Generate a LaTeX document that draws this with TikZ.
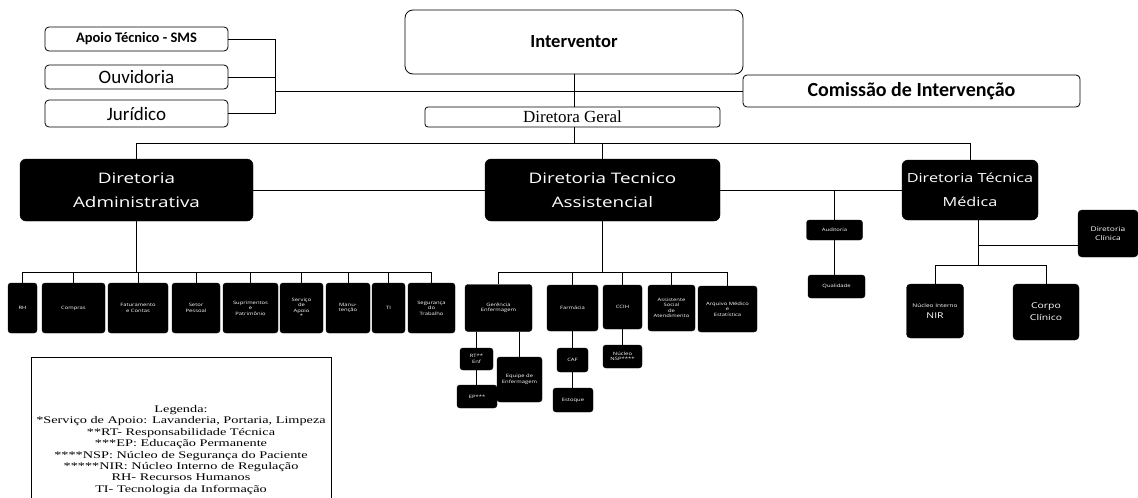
\documentclass[tikz,border=0pt]{standalone}
\usepackage{fontspec}
\setmainfont{Liberation Serif}
\newfontfamily\calf{Carlito}
\newfontfamily\osw{Open Sans}[FakeStretch=1.3]
\newfontfamily\legf{Liberation Serif}[FakeStretch=1.4]
\begin{document}
\begin{tikzpicture}[x=1pt,y=-1pt,
  conn/.style={draw=black, line width=0.8pt},
  wbox/.style={draw=black, fill=white, line width=0.8pt, rounded corners=4pt, inner sep=0pt, align=center},
  bbox/.style={draw=black, fill=black, text=white, rounded corners=6pt, inner sep=0pt, align=center},
  bigtxt/.style={font=\osw\fontsize{14.5}{24}\selectfont},
  sbox/.style={bbox, rounded corners=3pt, font=\osw\fontsize{4.5}{5.5}\selectfont},
  mbox/.style={bbox, rounded corners=4pt, font=\osw\fontsize{7}{9}\selectfont}]
\useasboundingbox (0,0) rectangle (1138,498);
\fill[white] (0,0) rectangle (1138,498);

% top left boxes
\node[wbox, minimum width=183pt, minimum height=24pt, font=\calf\bfseries\fontsize{14.5}{17}\selectfont] (apoio) at (136.5,39) {Apoio Técnico - SMS};
\node[wbox, minimum width=183pt, minimum height=24pt, font=\calf\fontsize{19}{22}\selectfont] (ouv) at (136.5,77) {Ouvidoria};
\node[wbox, minimum width=183pt, minimum height=27pt, font=\calf\fontsize{19}{22}\selectfont] (jur) at (136.5,113.5) {Jurídico};

% top center
\node[wbox, rounded corners=8pt, minimum width=338pt, minimum height=64pt, font=\calf\bfseries\fontsize{18.5}{22}\selectfont] (interv) at (574,42) {Interventor};
\node[wbox, minimum width=337pt, minimum height=32pt, font=\calf\bfseries\fontsize{20}{24}\selectfont] (comis) at (911.5,91) {Comissão de Intervenção};
\node[wbox, rounded corners=3pt, minimum width=295pt, minimum height=20pt, font=\fontsize{17}{20}\selectfont] (dg) at (572.5,117) {Diretora Geral};

% directorates
\node[bbox, minimum width=233pt, minimum height=62pt, bigtxt] (adm) at (136.5,190) {Diretoria\\Administrativa};
\node[bbox, minimum width=235pt, minimum height=62pt, bigtxt] (assist) at (602.5,190) {Diretoria Tecnico\\Assistencial};
\node[bbox, minimum width=136pt, minimum height=60pt, font=\osw\fontsize{12.5}{24}\selectfont] (med) at (970,190) {Diretoria Técnica\\Médica};

% connectors top
\coordinate (lv) at (275,91);
\draw[conn] (apoio.east) -| (lv);
\draw[conn] (ouv.east) -- (ouv.east -| lv);
\draw[conn] (jur.east) -| (lv);
\draw[conn] (lv) -- (comis.west);
\draw[conn] (interv.south) -- (interv.south |- dg.north);
\coordinate (b1) at (574,143);
\draw[conn] (dg.south -| b1) -- (b1);
\draw[conn] (adm.north) |- (b1);
\draw[conn] (b1) -| (med.north);
\draw[conn] (assist.north) -- (assist.north |- b1);
\draw[conn] (adm.east) -- (assist.west);
\draw[conn] (assist.east) -- (med.west);

% central small boxes
\node[sbox, minimum width=56pt, minimum height=20pt] (aud) at (834.5,230) {Auditoria};
\node[sbox, minimum width=57pt, minimum height=23pt] (qual) at (836.5,286.5) {Qualidade};
\coordinate (m1) at (834.5,190);
\draw[conn] (m1) -- (aud.north);
\draw[conn] (aud.south) -- (aud.south |- qual.north);

% medica children
\node[mbox, minimum width=60pt, minimum height=47pt, font=\osw\fontsize{6.5}{9}\selectfont] (dirclin) at (1108,233.5) {Diretoria\\Clínica};
\node[mbox, minimum width=57pt, minimum height=54pt, font=\osw\fontsize{5}{11}\selectfont] (nir) at (935,311) {Núcleo Interno\\{\fontsize{8}{11}\selectfont NIR}};
\node[mbox, minimum width=66pt, minimum height=56pt, font=\osw\fontsize{8}{12}\selectfont] (corpo) at (1046,312) {Corpo\\Clínico};
\coordinate (mvt) at (978,220);
\coordinate (dc) at (978,245);
\coordinate (mvb) at (978,265);
\draw[conn] (mvt) -- (mvb);
\draw[conn] (dc) -- (dc -| dirclin.west);
\draw[conn] (nir.north) |- (mvb);
\draw[conn] (mvb) -| (corpo.north);

% administrative row
\node[sbox, minimum width=29pt, minimum height=50pt] (a1) at (22.5,308) {RH};
\node[sbox, minimum width=63pt, minimum height=50pt] (a2) at (73.5,308) {Compras};
\node[sbox, minimum width=60pt, minimum height=50pt] (a3) at (138,308) {Faturamento\\e Contas};
\node[sbox, minimum width=48pt, minimum height=50pt] (a4) at (196,308) {Setor\\Pessoal};
\node[sbox, minimum width=55pt, minimum height=50pt] (a5) at (250.5,308) {Suprimentos\\e\\Patrimônio};
\node[sbox, minimum width=43pt, minimum height=50pt] (a6) at (301.5,308) {Serviço\\de\\Apoio\\*};
\node[sbox, minimum width=44pt, minimum height=50pt] (a7) at (348,308) {Manu-\\tenção};
\node[sbox, minimum width=33pt, minimum height=50pt] (a8) at (388.5,308) {TI};
\node[sbox, minimum width=47pt, minimum height=50pt] (a9) at (431.5,308) {Segurança\\do\\Trabalho};
\coordinate (ab) at (136.5,272);
\draw[conn] (adm.south) -- (ab);
\draw[conn] (a1.north) |- (ab);
\draw[conn] (ab) -| (a9.north);
\foreach \n in {a2,a3,a4,a5,a6,a7,a8} \draw[conn] (\n.north) -- (\n.north |- ab);

% assistencial row
\node[sbox, minimum width=67pt, minimum height=47pt] (en) at (498.5,308) {Gerência\\Enfermagem};
\node[sbox, minimum width=51pt, minimum height=46pt] (farm) at (572.5,308) {Farmácia};
\node[sbox, minimum width=39pt, minimum height=44pt] (ccih) at (622.5,307) {CCIH};
\node[sbox, minimum width=47pt, minimum height=46pt] (nut) at (671.5,308) {Assistente\\Social\\de\\Atendimento};
\node[sbox, minimum width=59pt, minimum height=46pt] (same) at (727.5,309) {Arquivo Médico\\e\\Estatística};
\coordinate (sb) at (602.5,272);
\draw[conn] (assist.south) -- (sb);
\draw[conn] (en.north) |- (sb);
\draw[conn] (sb) -| (same.north);
\foreach \n in {farm,ccih,nut} \draw[conn] (\n.north) -- (\n.north |- sb);

% assistencial sub-boxes
\node[sbox, minimum width=33pt, minimum height=22pt] (rt) at (476.5,359) {RT**\\Enf};
\node[sbox, minimum width=40pt, minimum height=23pt] (ep) at (477,396.5) {EP***};
\node[sbox, minimum width=45pt, minimum height=45pt] (eqenf) at (519.5,379.5) {Equipe de\\Enfermagem};
\node[sbox, minimum width=31pt, minimum height=24pt] (caf) at (572.5,360) {CAF};
\node[sbox, minimum width=40pt, minimum height=24pt] (est) at (573,400) {Estoque};
\node[sbox, minimum width=39pt, minimum height=23pt] (nsp) at (622.5,356.5) {Núcleo\\NSP****};
\draw[conn] (rt.north) -- (rt.north |- en.south);
\draw[conn] (rt.south) -- (rt.south |- ep.north);
\draw[conn] (eqenf.north) -- (eqenf.north |- en.south);
\draw[conn] (caf.north) -- (caf.north |- farm.south);
\draw[conn] (caf.south) -- (caf.south |- est.north);
\draw[conn] (nsp.north) -- (nsp.north |- ccih.south);

% legend
\draw[line width=0.8pt] (31,500) -- (31,357) -- (331,357) -- (331,500);
\node[align=center, inner sep=0pt, font=\legf\fontsize{10.2}{11.4}\selectfont] (leg) at (181,450) {%
Legenda:\\
*Serviço de Apoio: Lavanderia, Portaria, Limpeza\\
**RT- Responsabilidade Técnica\\
***EP: Educação Permanente\\
****NSP: Núcleo de Segurança do Paciente\\
*****NIR: Núcleo Interno de Regulação\\
RH- Recursos Humanos\\
TI- Tecnologia da Informação};
\end{tikzpicture}
\end{document}
